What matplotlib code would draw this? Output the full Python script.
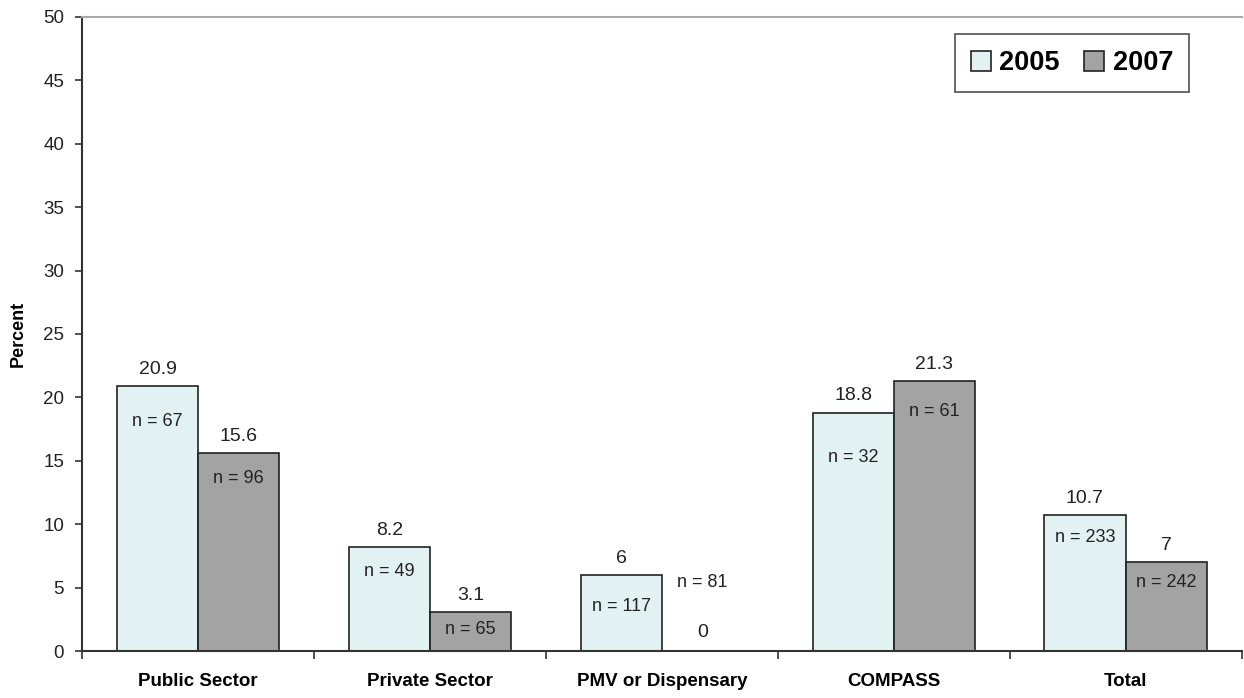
import matplotlib.pyplot as plt
import numpy as np

plt.rcParams['font.family'] = ['Liberation Sans', 'DejaVu Sans']

# Data
categories = ["Public Sector", "Private Sector", "PMV or Dispensary", "COMPASS", "Total"]
pct_2005 = [20.9, 8.2, 6, 18.8, 10.7]
pct_2007 = [15.6, 3.1, 0, 21.3, 7]
n_2005 = [67, 49, 117, 32, 233]
n_2007 = [96, 65, 81, 61, 242]
years = ["2005", "2007"]

# where the "n = " labels sit (percent units)
n_pos_2005 = [18.1, 6.3, 3.5, 15.3, 9.0]
n_pos_2007 = [13.6, 1.7, 5.4, 18.9, 5.4]

col_2005 = "#e2f2f2"
col_2007 = "#a3a3a3"

fig = plt.figure(figsize=(12.44, 6.98), dpi=100)
ax = fig.add_axes([0.066, 0.067, 0.932, 0.909])

x = np.arange(len(categories))
w = 0.35
ax.bar(x - w / 2, pct_2005, w, color=col_2005, edgecolor="#222222", linewidth=1.2, label=years[0])
ax.bar(x + w / 2, pct_2007, w, color=col_2007, edgecolor="#222222", linewidth=1.2, label=years[1])

for i in range(len(categories)):
    for xi, v, n, ny in [(x[i] - w / 2, pct_2005[i], n_2005[i], n_pos_2005[i]),
                         (x[i] + w / 2, pct_2007[i], n_2007[i], n_pos_2007[i])]:
        if v == 0:
            ax.text(xi, 1.5, "0", ha="center", va="center", fontsize=14, color="#222222")
        else:
            ax.annotate(f"{v:g}", (xi, v), xytext=(0, 6), textcoords="offset points",
                        ha="center", va="bottom", fontsize=14, color="#222222")
        ax.text(xi, ny, f"n = {n}", ha="center", va="center", fontsize=13, color="#222222")

ax.set_xlim(-0.5, len(categories) - 0.5)
ax.set_ylim(0, 50)
ax.set_yticks(np.arange(0, 51, 5))
ax.tick_params(axis="y", labelsize=13.5, length=5, width=1.2, pad=8, color="#333333", labelcolor="#222222")

ax.set_xticks(x)
ax.set_xticklabels(categories, fontsize=13.5, fontweight="bold")
ax.tick_params(axis="x", length=0, pad=16)
ax.set_xticks(np.arange(-0.5, len(categories), 1), minor=True)
ax.tick_params(axis="x", which="minor", length=6, width=1.2, color="#333333")

ax.set_ylabel("Percent", fontsize=13, fontweight="bold", labelpad=12)

ax.spines["top"].set_color("#aaaaaa")
ax.spines["top"].set_linewidth(1.5)
ax.spines["right"].set_visible(False)
ax.spines["left"].set_color("#333333")
ax.spines["left"].set_linewidth(1.5)
ax.spines["bottom"].set_color("#333333")
ax.spines["bottom"].set_linewidth(1.5)

leg = ax.legend(loc="upper right", bbox_to_anchor=(0.955, 0.973), ncol=2, frameon=True, fancybox=False,
                prop={"size": 19.5, "weight": "bold"}, handlelength=0.75, handleheight=0.75,
                handletextpad=0.3, columnspacing=0.9, borderpad=0.6, borderaxespad=0)
leg.get_frame().set_edgecolor("#222222")
leg.get_frame().set_linewidth(1.2)

fig.savefig("out.png", dpi=100)
